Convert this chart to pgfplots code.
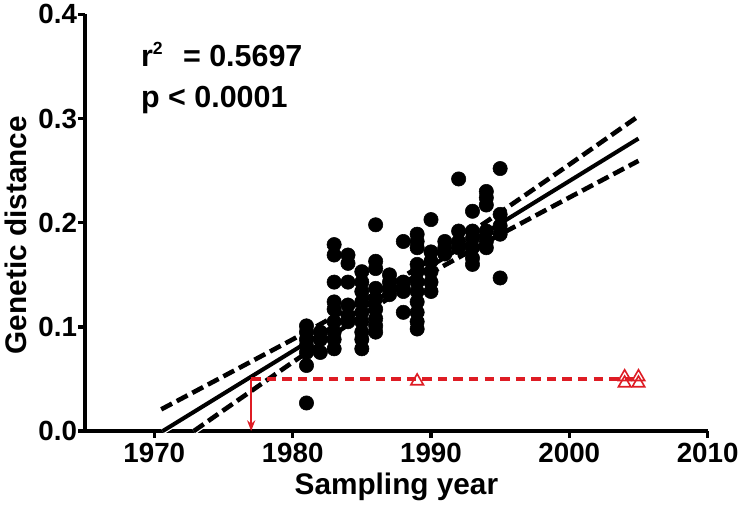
\documentclass[border=0pt]{standalone}
\usepackage{fontspec}
\setmainfont{Liberation Sans}
\usepackage{pgfplots}
\pgfplotsset{compat=1.18}
\usetikzlibrary{arrows.meta}
\definecolor{refred}{RGB}{222,28,36}

\begin{document}
\begin{tikzpicture}
\begin{axis}[
  scale only axis, width=460pt, height=308pt,
  xmin=1965, xmax=2010, ymin=0, ymax=0.4,
  axis x line=bottom, axis y line=left,
  axis line style={line width=2.6pt, -},
  xtick={1970,1980,1990,2000,2010},
  ytick={0,0.1,0.2,0.3,0.4},
  tick align=outside, major tick length=5pt,
  tick style={line width=2.4pt, black},
  /pgf/number format/assume math mode=true,
  /pgf/number format/1000 sep={},
  yticklabel style={/pgf/number format/fixed, /pgf/number format/precision=1,
    /pgf/number format/fixed zerofill, xshift=2.5pt},
  tick label style={font=\fontsize{20.5}{23}\selectfont\bfseries},
  xlabel={Sampling year},
  ylabel={Genetic distance},
  every axis x label/.style={at={(axis description cs:0.5,-0.133)}, anchor=center,
    font=\fontsize{22}{26}\selectfont\bfseries},
  every axis y label/.style={at={(axis description cs:-0.112,0.47)}, rotate=90, anchor=center,
    font=\fontsize{22}{26}\selectfont\bfseries},
  clip=false,
]
% observed samples
\addplot[only marks, mark=*, mark size=5.3pt, black] coordinates {
(1981,0.101) (1981,0.095) (1981,0.088) (1981,0.082) (1981,0.0755) (1981,0.063) (1981,0.027)
(1982,0.095) (1982,0.088) (1982,0.0755)
(1983,0.179) (1983,0.169) (1983,0.143) (1983,0.124) (1983,0.117) (1983,0.105) (1983,0.095) (1983,0.088) (1983,0.079)
(1984,0.169) (1984,0.161) (1984,0.143) (1984,0.121) (1984,0.111) (1984,0.105)
(1985,0.153) (1985,0.143) (1985,0.134) (1985,0.124) (1985,0.114) (1985,0.105) (1985,0.095) (1985,0.088) (1985,0.079)
(1986,0.198) (1986,0.163) (1986,0.156) (1986,0.137) (1986,0.127) (1986,0.117) (1986,0.108) (1986,0.101) (1986,0.095)
(1987,0.150) (1987,0.143) (1987,0.137) (1987,0.131)
(1988,0.182) (1988,0.143) (1988,0.137) (1988,0.134) (1988,0.114)
(1989,0.189) (1989,0.182) (1989,0.176) (1989,0.160) (1989,0.153) (1989,0.143) (1989,0.134) (1989,0.124) (1989,0.114) (1989,0.105) (1989,0.098)
(1990,0.203) (1990,0.172) (1990,0.163) (1990,0.153) (1990,0.143) (1990,0.134)
(1991,0.182) (1991,0.176) (1991,0.170)
(1992,0.242) (1992,0.192) (1992,0.182) (1992,0.176)
(1993,0.211) (1993,0.192) (1993,0.185) (1993,0.176) (1993,0.166) (1993,0.160)
(1994,0.230) (1994,0.224) (1994,0.217) (1994,0.192) (1994,0.182) (1994,0.176)
(1995,0.252) (1995,0.208) (1995,0.197) (1995,0.189) (1995,0.147)
};
% regression line and 95% band: white halo first, then black
\addplot[white, line width=4.8pt] coordinates {(1970.6,0) (2005,0.2808)};
\addplot[white, line width=5.2pt, dash pattern=on 9pt off 4pt] coordinates {
(1970.5,0.0209) (1975,0.0526) (1980,0.0880) (1985,0.1246) (1987.7,0.1458)
(1990,0.1651) (1995,0.2099) (2000,0.2558) (2005,0.3023)};
\addplot[white, line width=5.2pt, dash pattern=on 9pt off 4pt] coordinates {
(1972.85,0) (1975,0.0200) (1980,0.0661) (1985,0.1110) (1987.7,0.1338)
(1990,0.1519) (1995,0.1887) (2000,0.2242) (2005,0.2594)};
\addplot[black, line width=3pt] coordinates {(1970.6,0) (2005,0.2808)};
\addplot[black, line width=3.4pt, dash pattern=on 9pt off 4pt] coordinates {
(1970.5,0.0209) (1975,0.0526) (1980,0.0880) (1985,0.1246) (1987.7,0.1458)
(1990,0.1651) (1995,0.2099) (2000,0.2558) (2005,0.3023)};
\addplot[black, line width=3.4pt, dash pattern=on 9pt off 4pt] coordinates {
(1972.85,0) (1975,0.0200) (1980,0.0661) (1985,0.1110) (1987.7,0.1338)
(1990,0.1519) (1995,0.1887) (2000,0.2242) (2005,0.2594)};
% red series
\addplot[refred, line width=2.6pt, dash pattern=on 7pt off 4.5pt] coordinates {(1977,0.05) (2005,0.05)};
\addplot[refred, line width=1.6pt, -{Stealth[length=8pt,width=6pt]}] coordinates {(1977,0.05) (1977,0)};
\addplot[only marks, mark=triangle, mark size=5.3pt, refred, mark options={line width=1.2pt}] coordinates {
(1989,0.048) (2004,0.052) (2004,0.046) (2005,0.052) (2005,0.046)};
\node[anchor=base west, font=\fontsize{22.5}{27}\selectfont\bfseries] at (axis cs:1968.7,0.3496) {r\raisebox{0.42em}{\fontsize{13}{13}\selectfont 2}\hspace{15pt}= 0.5697};
\node[anchor=base west, font=\fontsize{22.5}{27}\selectfont\bfseries] at (axis cs:1968.7,0.3109) {p < 0.0001};
\end{axis}
\end{tikzpicture}
\end{document}
